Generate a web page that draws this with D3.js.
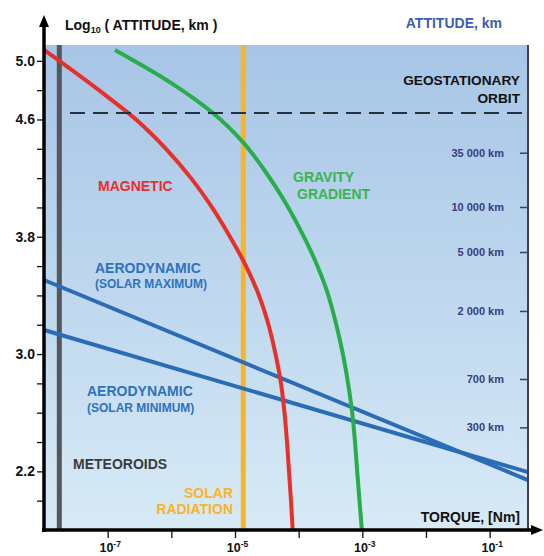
<!DOCTYPE html>
<html>
<head>
<meta charset="utf-8">
<script src="https://cdn.jsdelivr.net/npm/d3@7"></script>
<style>
body { margin: 0; background: #fff; }
svg text { font-family: "Liberation Sans", Arial, sans-serif; font-weight: bold; }
</style>
</head>
<body>
<svg id="chart" width="544" height="556"></svg>
<script>
// each point: [torque in Nm, log10(altitude in km)]
var magnetic = [
    [1.0e-8, 5.075], [7.29e-8, 4.8], [2.79e-7, 4.6], [8.24e-7, 4.4],
    [2.04e-6, 4.2], [4.36e-6, 4.0], [8.34e-6, 3.8], [1.49e-5, 3.6],
    [2.38e-5, 3.4], [3.36e-5, 3.2], [4.33e-5, 3.0], [5.28e-5, 2.8],
    [5.99e-5, 2.6], [6.56e-5, 2.4], [7.05e-5, 2.2], [7.57e-5, 2.0],
    [8.05e-5, 1.80]
];
var gravity = [
    [1.30e-7, 5.074], [9.86e-7, 4.85], [4.50e-6, 4.644], [1.33e-5, 4.446],
    [3.11e-5, 4.235], [5.48e-5, 4.071], [1.01e-4, 3.866], [1.89e-4, 3.62],
    [2.65e-4, 3.457], [4.44e-4, 3.096], [6.76e-4, 2.639], [8.51e-4, 2.14],
    [9.82e-4, 1.80]
];
var aeroMax = [[1.0e-8, 3.505], [0.4, 2.14]];
var aeroMin = [[1.0e-8, 3.164], [0.4, 2.195]];

// constant torques (vertical lines)
var meteoroids = 1.74e-8;
var solarRadiation = 1.35e-5;
// geostationary orbit as drawn, log10 km
var geoOrbit = 4.644;

// axes
var xTicks = [1e-7, 1e-6, 1e-5, 1e-4, 1e-3, 1e-2, 1e-1];
var xTickLabels = {"1e-7": "-7", "0.00001": "-5", "0.001": "-3", "0.1": "-1"};
var yTicks = [2.0, 2.2, 2.4, 2.6, 2.8, 3.0, 3.2, 3.4, 3.6, 3.8, 4.0, 4.2, 4.4, 4.6, 4.8, 5.0];
var yTickLabels = [5.0, 4.6, 3.8, 3.0, 2.2];
var kmTicks = [
    {label: "35 000 km", at: 4.373},
    {label: "10 000 km", at: 4.003},
    {label: "5 000 km", at: 3.696},
    {label: "2 000 km", at: 3.294},
    {label: "700 km", at: 2.83},
    {label: "300 km", at: 2.50}
];

//plot box in pixels (don't use "top" - it's taken by window.top)
var pLeft = 44, pRight = 528, pTop = 45, pBottom = 530;

var svg = d3.select('#chart');

var x = d3.scaleLog().domain([1e-8, 0.4]).range([pLeft, pRight]);
var y = d3.scaleLinear().domain([1.8, 5.108]).range([pBottom, pTop]);

//background gradient
var grad = svg.append('defs').append('linearGradient')
    .attr('id', 'bg').attr('x1', 0).attr('y1', 0).attr('x2', 0).attr('y2', 1);
grad.append('stop').attr('offset', '0%').attr('stop-color', '#a7c5e6');
grad.append('stop').attr('offset', '60%').attr('stop-color', '#c3dbf0');
grad.append('stop').attr('offset', '100%').attr('stop-color', '#d8eaf6');

svg.append('rect')
    .attr('x', pLeft).attr('y', pTop)
    .attr('width', pRight - pLeft).attr('height', pBottom - pTop)
    .attr('fill', 'url(#bg)');

var line = d3.line()
    .x(function(d){ return x(d[0]); })
    .y(function(d){ return y(d[1]); });

var curve = d3.line()
    .x(function(d){ return x(d[0]); })
    .y(function(d){ return y(d[1]); })
    .curve(d3.curveMonotoneY);

//meteoroids + solar radiation
svg.append('line')
    .attr('x1', x(meteoroids)).attr('x2', x(meteoroids))
    .attr('y1', pTop).attr('y2', pBottom)
    .attr('stroke', '#54575c').attr('stroke-width', 5);

svg.append('line')
    .attr('x1', x(solarRadiation)).attr('x2', x(solarRadiation))
    .attr('y1', pTop).attr('y2', pBottom)
    .attr('stroke', '#f8b526').attr('stroke-width', 5);

//aerodynamic
svg.append('path').datum(aeroMax).attr('d', line)
    .attr('fill', 'none').attr('stroke', '#2a6db6').attr('stroke-width', 4);
svg.append('path').datum(aeroMin).attr('d', line)
    .attr('fill', 'none').attr('stroke', '#2a6db6').attr('stroke-width', 4);

//magnetic + gravity gradient
svg.append('path').datum(magnetic).attr('d', curve)
    .attr('fill', 'none').attr('stroke', '#e8302b').attr('stroke-width', 4);
svg.append('path').datum(gravity).attr('d', curve)
    .attr('fill', 'none').attr('stroke', '#27ae4a').attr('stroke-width', 4);

//geostationary
svg.append('line')
    .attr('x1', 70).attr('x2', pRight)
    .attr('y1', y(geoOrbit)).attr('y2', y(geoOrbit))
    .attr('stroke', '#26303f').attr('stroke-width', 2)
    .attr('stroke-dasharray', '15,8');

//right km axis
var kmAxis = svg.append('g')
    .attr('transform', 'translate(' + pRight + ',0)')
    .call(d3.axisLeft(y)
        .tickValues(kmTicks.map(function(d){ return d.at; }))
        .tickFormat(function(d, i){ return kmTicks[i].label; })
        .tickSize(8).tickPadding(16).tickSizeOuter(0));
kmAxis.select('.domain').attr('stroke', '#3b3d6b').attr('stroke-width', 2)
    .attr('d', 'M0,' + pTop + 'V' + pBottom);
kmAxis.selectAll('.tick line').attr('stroke', '#3b3d6b').attr('stroke-width', 1.5);
kmAxis.selectAll('.tick text')
    .attr('fill', '#3a3c7c')
    .style('font-size', '11px')
    .style('font-family', '"Liberation Sans", Arial, sans-serif')
    .style('font-weight', 'bold');

//left axis
var yAxis = svg.append('g')
    .attr('transform', 'translate(' + pLeft + ',0)')
    .call(d3.axisLeft(y)
        .tickValues(yTicks)
        .tickFormat(function(d){
            return yTickLabels.indexOf(d) >= 0 ? d3.format('.1f')(d) : '';
        })
        .tickSize(7).tickPadding(2).tickSizeOuter(0));
yAxis.select('.domain').remove();
yAxis.selectAll('.tick line').attr('stroke', '#111').attr('stroke-width', 1.3);
yAxis.selectAll('.tick text')
    .attr('fill', '#111')
    .style('font-size', '14px')
    .style('font-family', '"Liberation Sans", Arial, sans-serif')
    .style('font-weight', 'bold');

//bottom axis
var xAxis = svg.append('g')
    .attr('transform', 'translate(0,' + pBottom + ')')
    .call(d3.axisBottom(x)
        .tickValues(xTicks)
        .tickFormat('')
        .tickSize(8).tickSizeOuter(0));
xAxis.select('.domain').remove();
xAxis.selectAll('.tick line').attr('stroke', '#111').attr('stroke-width', 1.3);
xAxis.selectAll('.tick').each(function(d){
    var lab = xTickLabels[String(d)];
    if (!lab) return;
    var t = d3.select(this).append('text')
        .attr('y', 22).attr('x', 2)
        .attr('text-anchor', 'middle')
        .attr('fill', '#111')
        .style('font-size', '12.5px');
    t.append('tspan').text('10');
    t.append('tspan').attr('dy', -5).style('font-size', '8.5px').text(lab);
});

//axis lines with arrows
svg.append('line')
    .attr('x1', pLeft).attr('x2', pLeft).attr('y1', pBottom + 2).attr('y2', 24)
    .attr('stroke', '#000').attr('stroke-width', 3.5);
svg.append('path')
    .attr('d', 'M' + pLeft + ',15L' + (pLeft - 5) + ',27L' + (pLeft + 5) + ',27Z')
    .attr('fill', '#000');
svg.append('line')
    .attr('x1', pLeft - 2).attr('x2', 533).attr('y1', pBottom).attr('y2', pBottom)
    .attr('stroke', '#000').attr('stroke-width', 3.5);
svg.append('path')
    .attr('d', 'M543,' + pBottom + 'L531,' + (pBottom - 5) + 'L531,' + (pBottom + 5) + 'Z')
    .attr('fill', '#000');

//labels
function label(txt, px, py, color, size, anchor){
    return svg.append('text')
        .attr('x', px).attr('y', py)
        .attr('fill', color)
        .attr('text-anchor', anchor || 'start')
        .style('font-size', (size || 14) + 'px')
        .text(txt);
}

var t1 = svg.append('text').attr('x', 65).attr('y', 30)
    .attr('fill', '#111').style('font-size', '14px');
t1.append('tspan').text('Log');
t1.append('tspan').attr('dy', 3).style('font-size', '9px').text('10');
t1.append('tspan').attr('dy', -3).text(' ( ATTITUDE, km )');

label('ATTITUDE, km', 502, 28, '#3b5fae', 14, 'end');
label('GEOSTATIONARY', 520, 85, '#111', 13.7, 'end');
label('ORBIT', 520, 103, '#111', 13.7, 'end');
label('MAGNETIC', 98, 191, '#e8302b');
label('GRAVITY', 293, 182, '#3cb44e');
label('GRADIENT', 297, 199, '#3cb44e');
label('AERODYNAMIC', 95, 273, '#2e72bd');
label('(SOLAR MAXIMUM)', 95, 288, '#2e72bd', 12);
label('AERODYNAMIC', 87, 396, '#2e72bd');
label('(SOLAR MINIMUM)', 87, 412, '#2e72bd', 12);
label('METEOROIDS', 73, 469, '#3a3b3e');
label('SOLAR', 233, 498, '#f8b526', 14, 'end');
label('RADIATION', 233, 514, '#f8b526', 14, 'end');
label('TORQUE, [Nm]', 520, 522, '#111', 14, 'end');
</script>
</body>
</html>
